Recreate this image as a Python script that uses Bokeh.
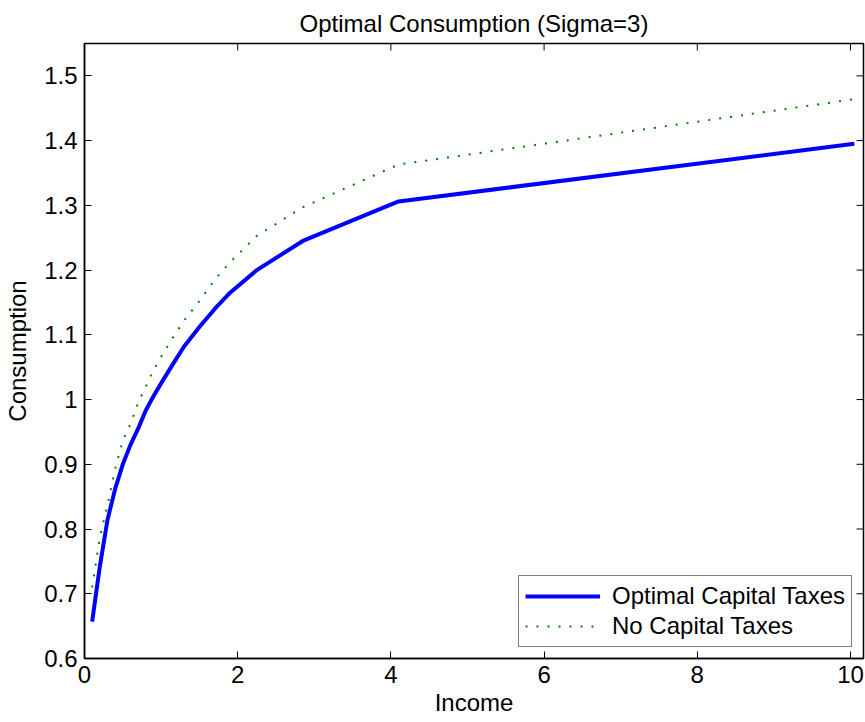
import math
from bokeh.plotting import figure
from bokeh.models import FixedTicker, CustomJSTickFormatter, Range1d
from bokeh.embed import file_html
from bokeh.resources import INLINE

income = [0.1, 0.2, 0.3, 0.4, 0.5, 0.6, 0.7, 0.8, 0.9, 1.0, 1.15, 1.3, 1.5,
          1.7, 1.9, 2.25, 2.85, 4.1, 10.05]
optimal_taxes = [0.657, 0.742, 0.814, 0.862, 0.900, 0.930, 0.955, 0.983, 1.005,
                 1.025, 1.054, 1.082, 1.112, 1.140, 1.165, 1.200, 1.245, 1.306, 1.395]
no_taxes = [0.710, 0.787, 0.837, 0.893, 0.937, 0.962, 0.995, 1.020, 1.045,
            1.066, 1.095, 1.122, 1.152, 1.185, 1.212, 1.253, 1.297, 1.363, 1.464]

x_ticks = [0, 2, 4, 6, 8, 10]
y_ticks = [0.6, 0.7, 0.8, 0.9, 1.0, 1.1, 1.2, 1.3, 1.4, 1.5]
x_limits = (0, 10.17)
y_limits = (0.6, 1.55)

FONT = "Liberation Sans"
FS = "24px"

p = figure(width=865, height=722, output_backend="svg", toolbar_location=None,
           x_range=Range1d(*x_limits), y_range=Range1d(*y_limits),
           min_border_left=84, min_border_right=2, min_border_top=42,
           min_border_bottom=64)

p.title.text = "Optimal Consumption (Sigma=3)"
p.title.align = "center"
p.title.text_font = FONT
p.title.text_font_size = FS
p.title.text_font_style = "normal"
p.title.text_color = "black"
p.title.standoff = 14

p.xgrid.visible = False
p.ygrid.visible = False
p.outline_line_color = "black"
p.outline_line_width = 1.5
p.background_fill_color = "white"
p.border_fill_color = "white"

fmt = CustomJSTickFormatter(code="return String(Number(tick.toFixed(2)));")

for ax in p.xaxis:
    ax.ticker = FixedTicker(ticks=x_ticks)
    ax.axis_label = "Income"
    ax.axis_label_standoff = 3
for ax in p.yaxis:
    ax.ticker = FixedTicker(ticks=y_ticks)
    ax.axis_label = "Consumption"
    ax.axis_label_standoff = 10

for ax in list(p.xaxis) + list(p.yaxis):
    ax.formatter = fmt
    ax.major_label_text_font = FONT
    ax.major_label_text_font_size = FS
    ax.major_label_text_color = "black"
    ax.axis_label_text_font = FONT
    ax.axis_label_text_font_size = FS
    ax.axis_label_text_font_style = "normal"
    ax.axis_label_text_color = "black"
    ax.major_tick_in = 7
    ax.major_tick_out = 0
    ax.minor_tick_in = 0
    ax.minor_tick_out = 0
    ax.axis_line_width = 1.5
    ax.major_tick_line_width = 1
    ax.major_label_standoff = 7

# mirrored tick marks on the top and right edges of the box (clipped to the frame)
p.scatter(x_ticks, [y_limits[1]] * len(x_ticks), marker="dash", size=14,
          angle=math.pi / 2, line_color="black", line_width=1)
p.scatter([x_limits[1]] * len(y_ticks), y_ticks, marker="dash", size=14,
          line_color="black", line_width=1)

p.line(income, optimal_taxes, line_color="#0000ff", line_width=4,
       legend_label="Optimal Capital Taxes")
p.line(income, no_taxes, line_color="#008000", line_width=2, line_dash="2 9",
       legend_label="No Capital Taxes")

lg = p.legend[0]
lg.location = "bottom_right"
lg.margin = 11
lg.padding = 6
lg.spacing = 2
lg.label_height = 20
lg.glyph_height = 20
lg.glyph_width = 75
lg.label_standoff = 12
lg.label_text_font = FONT
lg.label_text_font_size = FS
lg.label_text_color = "black"
lg.border_line_color = "black"
lg.border_line_width = 1
lg.background_fill_color = "white"
lg.background_fill_alpha = 1.0

open("out.html", "w").write(file_html(p, INLINE))
